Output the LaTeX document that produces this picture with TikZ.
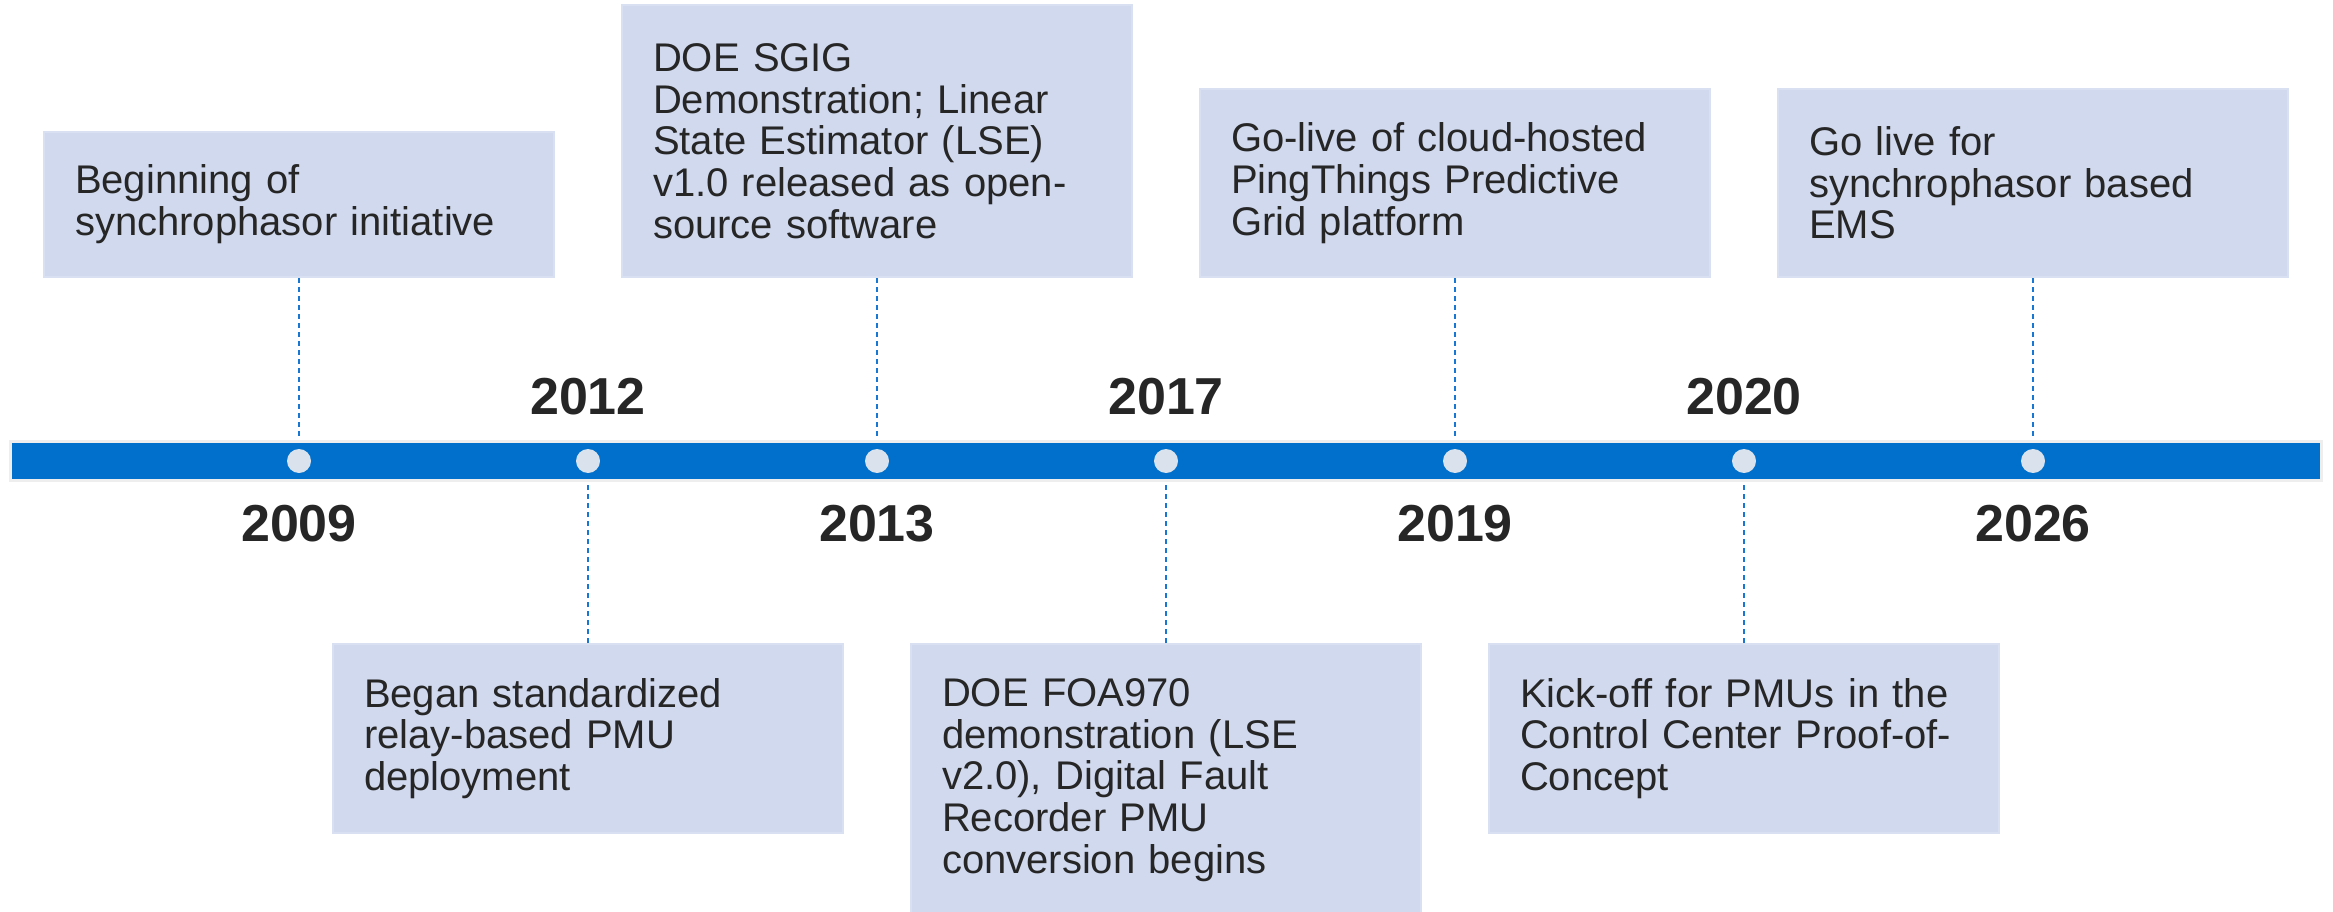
\documentclass[tikz,border=0pt]{standalone}
\usepackage{fontspec}
\setmainfont{Liberation Sans}
\definecolor{boxfill}{HTML}{D0D9EE}
\definecolor{boxline}{HTML}{D8E0F1}
\definecolor{barblue}{HTML}{0070CC}
\definecolor{barrim}{HTML}{EEEEEE}
\definecolor{dotfill}{HTML}{DAE3ED}
\definecolor{txt}{HTML}{262626}
\definecolor{conncol}{HTML}{1877D2}
\tikzset{
  evbox/.style={rectangle, fill=boxfill, draw=boxline, line width=2pt,
    text width=448pt, inner xsep=31pt, inner ysep=0pt, align=left,
    text=txt, font=\fontsize{40}{41.7}\selectfont},
  yearlbl/.style={anchor=base, text=txt, inner sep=0pt,
    font=\fontsize{52}{60}\selectfont\bfseries},
  tdot/.style={circle, fill=dotfill, draw=none, minimum size=24pt, inner sep=0pt},
  conn/.style={draw=conncol, line width=1.3pt, dash pattern=on 5pt off 4pt},
  timebar/.style={rectangle, fill=barblue, draw=barrim, line width=3pt,
    minimum width=2311pt, minimum height=39pt, inner sep=0pt}
}
\begin{document}
\begin{tikzpicture}[x=1pt,y=-1pt]
\useasboundingbox (0,0) rectangle (2333,912);
\clip (0,0) rectangle (2333,912);
% boxes
\node[evbox, minimum height=145pt] (b2009) at (299,204.5) {Beginning of\\synchrophasor initiative};
\node[evbox, minimum height=272pt] (b2013) at (877,141) {DOE SGIG\\Demonstration; Linear\\State Estimator (LSE)\\v1.0 released as open-\\source software};
\node[evbox, minimum height=188pt] (b2019) at (1455,183) {Go-live of cloud-hosted\\PingThings Predictive\\Grid platform};
\node[evbox, minimum height=188pt] (b2026) at (2033,183) {Go live for\\synchrophasor based\\EMS};
\node[evbox, minimum height=189pt] (b2012) at (588,738.5) {Began standardized\\relay-based PMU\\deployment};
\node[evbox, minimum height=272pt] (b2017) at (1166,780) {DOE FOA970\\demonstration (LSE\\v2.0), Digital Fault\\Recorder PMU\\conversion begins};
\node[evbox, minimum height=189pt] (b2020) at (1744,738.5) {Kick-off for PMUs in the\\Control Center Proof-of-\\Concept};
% dots (positions)
\coordinate (c2009) at (299,461);
\coordinate (c2012) at (588,461);
\coordinate (c2013) at (877,461);
\coordinate (c2017) at (1166,461);
\coordinate (c2019) at (1455,461);
\coordinate (c2020) at (1744,461);
\coordinate (c2026) at (2033,461);
% connectors
\draw[conn] (b2009.south) -- (c2009);
\draw[conn] (b2013.south) -- (c2013);
\draw[conn] (b2019.south) -- (c2019);
\draw[conn] (b2026.south) -- (c2026);
\draw[conn] (b2012.north) -- (c2012);
\draw[conn] (b2017.north) -- (c2017);
\draw[conn] (b2020.north) -- (c2020);
% bar
\node[timebar] (bar) at (1166,461) {};
\foreach \y in {2009,2012,2013,2017,2019,2020,2026}{
  \node[tdot] (d\y) at (c\y) {};
}
% year labels
\node[yearlbl] (y2009) at (299,541) {2009};
\node[yearlbl] (y2012) at (588,414) {2012};
\node[yearlbl] (y2013) at (877,541) {2013};
\node[yearlbl] (y2017) at (1166,414) {2017};
\node[yearlbl] (y2019) at (1455,541) {2019};
\node[yearlbl] (y2020) at (1744,414) {2020};
\node[yearlbl] (y2026) at (2033,541) {2026};
\end{tikzpicture}
\end{document}
